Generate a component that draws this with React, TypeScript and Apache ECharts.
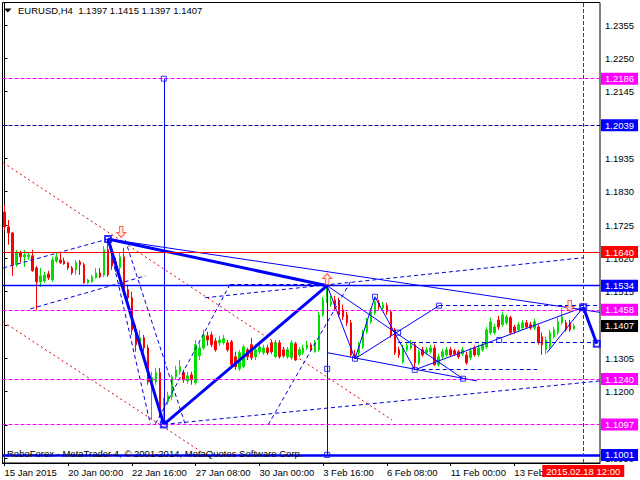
import React, { useEffect, useRef } from 'react';
import * as echarts from 'echarts';

const FONT = '"Liberation Sans", Arial, sans-serif';

const barCount = 150;
const tickIndex = [0, 16, 32, 48, 64, 80, 96, 112, 128];
const tickLabels = ['15 Jan 2015', '20 Jan 00:00', '22 Jan 16:00', '27 Jan 08:00', '30 Jan 00:00', '3 Feb 16:00', '6 Feb 08:00', '11 Feb 00:00', '13 Feb 16:00'];
const yTicks = [1.2355, 1.2250, 1.2145, 1.2040, 1.1935, 1.1830, 1.1725, 1.1620, 1.1515, 1.1410, 1.1305, 1.1200, 1.1095, 1.0990];
const yMin = 1.09755;
const yMax = 1.24259;

const titleText = 'EURUSD,H4  1.1397 1.1415 1.1397 1.1407';
const footerText = 'RoboForex - MetaTrader 4, \u00A9 2001-2014, MetaQuotes Software Corp.';
const vLineLabel = '2015.02.18 12:00';

const opens = [
  1.1766, 1.1719, 1.1700, 1.1600, 1.1637, 1.1625, 1.1625, 1.1628, 1.1590, 1.1546,
  1.1549, 1.1571, 1.1552, 1.1612, 1.1615, 1.1612, 1.1606, 1.1590, 1.1584, 1.1609,
  1.1600, 1.1543, 1.1546, 1.1559, 1.1574, 1.1568, 1.1647, 1.1622, 1.1609, 1.1590,
  1.1625, 1.1521, 1.1496, 1.1395, 1.1348, 1.1370, 1.1338, 1.1231, 1.1231, 1.1260,
  1.1111, 1.1168, 1.1184, 1.1247, 1.1263, 1.1260, 1.1234, 1.1253, 1.1228, 1.1313,
  1.1338, 1.1376, 1.1379, 1.1360, 1.1354, 1.1354, 1.1354, 1.1357, 1.1310, 1.1272,
  1.1279, 1.1332, 1.1348, 1.1310, 1.1326, 1.1323, 1.1338, 1.1354, 1.1310, 1.1354,
  1.1332, 1.1310, 1.1307, 1.1351, 1.1316, 1.1323, 1.1338, 1.1348, 1.1326, 1.1332,
  1.1442, 1.1489, 1.1474, 1.1489, 1.1483, 1.1458, 1.1442, 1.1417, 1.1316, 1.1323,
  1.1341, 1.1389, 1.1420, 1.1448, 1.1480, 1.1464, 1.1471, 1.1452, 1.1395, 1.1332,
  1.1294, 1.1332, 1.1338, 1.1348, 1.1291, 1.1332, 1.1323, 1.1326, 1.1338, 1.1285,
  1.1310, 1.1316, 1.1332, 1.1329, 1.1326, 1.1319, 1.1316, 1.1307, 1.1338, 1.1316,
  1.1332, 1.1341, 1.1386, 1.1386, 1.1426, 1.1411, 1.1417, 1.1433, 1.1404, 1.1395,
  1.1401, 1.1417, 1.1411, 1.1401, 1.1404, 1.1373, 1.1332, 1.1341, 1.1373, 1.1386,
  1.1417, 1.1417, 1.1417, 1.1397,
];
const closes = [
  1.1719, 1.1700, 1.1600, 1.1637, 1.1625, 1.1631, 1.1631, 1.1581, 1.1546, 1.1565,
  1.1568, 1.1559, 1.1615, 1.1625, 1.1606, 1.1603, 1.1590, 1.1574, 1.1606, 1.1600,
  1.1543, 1.1552, 1.1562, 1.1574, 1.1562, 1.1647, 1.1568, 1.1596, 1.1590, 1.1625,
  1.1521, 1.1496, 1.1395, 1.1348, 1.1370, 1.1338, 1.1231, 1.1244, 1.1260, 1.1127,
  1.1168, 1.1187, 1.1247, 1.1269, 1.1279, 1.1237, 1.1250, 1.1237, 1.1348, 1.1338,
  1.1379, 1.1363, 1.1348, 1.1332, 1.1363, 1.1367, 1.1332, 1.1285, 1.1279, 1.1323,
  1.1341, 1.1310, 1.1307, 1.1332, 1.1341, 1.1338, 1.1323, 1.1326, 1.1354, 1.1310,
  1.1313, 1.1332, 1.1354, 1.1300, 1.1332, 1.1338, 1.1348, 1.1335, 1.1354, 1.1442,
  1.1489, 1.1530, 1.1483, 1.1471, 1.1442, 1.1436, 1.1417, 1.1316, 1.1310, 1.1345,
  1.1389, 1.1420, 1.1452, 1.1483, 1.1467, 1.1474, 1.1452, 1.1379, 1.1323, 1.1316,
  1.1338, 1.1345, 1.1348, 1.1291, 1.1326, 1.1316, 1.1332, 1.1338, 1.1285, 1.1310,
  1.1326, 1.1332, 1.1316, 1.1319, 1.1310, 1.1332, 1.1291, 1.1329, 1.1316, 1.1338,
  1.1348, 1.1395, 1.1420, 1.1404, 1.1404, 1.1442, 1.1436, 1.1386, 1.1389, 1.1411,
  1.1417, 1.1404, 1.1401, 1.1420, 1.1354, 1.1348, 1.1363, 1.1386, 1.1395, 1.1420,
  1.1436, 1.1395, 1.1395, 1.1407,
];
const lows = [
  1.1710, 1.1663, 1.1565, 1.1593, 1.1606, 1.1593, 1.1615, 1.1578, 1.1458, 1.1530,
  1.1543, 1.1552, 1.1546, 1.1606, 1.1603, 1.1600, 1.1584, 1.1568, 1.1568, 1.1568,
  1.1540, 1.1540, 1.1543, 1.1556, 1.1559, 1.1562, 1.1562, 1.1584, 1.1578, 1.1578,
  1.1505, 1.1474, 1.1379, 1.1326, 1.1332, 1.1326, 1.1222, 1.1111, 1.1222, 1.1118,
  1.1097, 1.1159, 1.1174, 1.1237, 1.1253, 1.1228, 1.1225, 1.1222, 1.1222, 1.1300,
  1.1332, 1.1345, 1.1341, 1.1326, 1.1345, 1.1348, 1.1326, 1.1279, 1.1269, 1.1266,
  1.1275, 1.1300, 1.1300, 1.1300, 1.1319, 1.1316, 1.1316, 1.1319, 1.1307, 1.1304,
  1.1307, 1.1304, 1.1300, 1.1297, 1.1310, 1.1316, 1.1332, 1.1329, 1.1323, 1.1326,
  1.1436, 1.1480, 1.1467, 1.1458, 1.1436, 1.1426, 1.1407, 1.1310, 1.1304, 1.1313,
  1.1335, 1.1382, 1.1414, 1.1442, 1.1458, 1.1458, 1.1442, 1.1370, 1.1316, 1.1307,
  1.1288, 1.1326, 1.1332, 1.1269, 1.1285, 1.1310, 1.1316, 1.1319, 1.1282, 1.1279,
  1.1304, 1.1310, 1.1310, 1.1313, 1.1304, 1.1313, 1.1285, 1.1300, 1.1310, 1.1310,
  1.1326, 1.1335, 1.1379, 1.1379, 1.1395, 1.1404, 1.1411, 1.1379, 1.1382, 1.1389,
  1.1395, 1.1398, 1.1395, 1.1395, 1.1348, 1.1316, 1.1319, 1.1335, 1.1367, 1.1379,
  1.1411, 1.1389, 1.1389, 1.1397,
];
const highs = [
  1.1788, 1.1741, 1.1703, 1.1647, 1.1644, 1.1647, 1.1640, 1.1647, 1.1596, 1.1590,
  1.1578, 1.1581, 1.1625, 1.1640, 1.1637, 1.1622, 1.1609, 1.1596, 1.1615, 1.1615,
  1.1606, 1.1556, 1.1568, 1.1590, 1.1590, 1.1659, 1.1681, 1.1631, 1.1622, 1.1640,
  1.1653, 1.1537, 1.1515, 1.1411, 1.1395, 1.1379, 1.1348, 1.1263, 1.1275, 1.1275,
  1.1181, 1.1200, 1.1253, 1.1282, 1.1300, 1.1269, 1.1263, 1.1263, 1.1363, 1.1354,
  1.1395, 1.1389, 1.1389, 1.1370, 1.1376, 1.1379, 1.1363, 1.1363, 1.1326, 1.1332,
  1.1348, 1.1338, 1.1370, 1.1341, 1.1354, 1.1348, 1.1348, 1.1363, 1.1363, 1.1363,
  1.1341, 1.1341, 1.1363, 1.1357, 1.1341, 1.1348, 1.1360, 1.1354, 1.1363, 1.1452,
  1.1499, 1.1534, 1.1502, 1.1502, 1.1496, 1.1474, 1.1452, 1.1426, 1.1332, 1.1357,
  1.1395, 1.1433, 1.1464, 1.1499, 1.1489, 1.1483, 1.1480, 1.1458, 1.1401, 1.1341,
  1.1348, 1.1354, 1.1363, 1.1357, 1.1332, 1.1341, 1.1341, 1.1348, 1.1348, 1.1319,
  1.1335, 1.1341, 1.1341, 1.1335, 1.1332, 1.1341, 1.1326, 1.1338, 1.1345, 1.1348,
  1.1357, 1.1404, 1.1433, 1.1414, 1.1439, 1.1452, 1.1442, 1.1439, 1.1411, 1.1420,
  1.1426, 1.1426, 1.1420, 1.1430, 1.1411, 1.1386, 1.1373, 1.1395, 1.1404, 1.1433,
  1.1464, 1.1426, 1.1426, 1.1415,
];

// horizontal price levels
const magentaLevels = [1.2186, 1.1458, 1.1240, 1.1097];
const navyLevel = 1.2039;
const redLevel = 1.1640;
const blueLevel = 1.1534;
const blueThickLevel = 1.1001;
const bidLevel = 1.1407;
const vLineX = 145.3;

// overlay segments: [x1, price1, x2, price2] in bar index units
const thickLines = [
  [26, 1.1681, 40, 1.1097],
  [40, 1.1097, 81, 1.1534],
  [26, 1.1681, 81, 1.1534],
  [145.3, 1.1466, 148.7, 1.1351],
];
const thinLines = [
  [40, 1.2186, 40, 1.1097],
  [81, 1.1534, 81, 1.1001],
  [81, 1.1534, 88, 1.1304],
  [88, 1.1304, 93, 1.1499],
  [93, 1.1499, 103, 1.1269],
  [103, 1.1269, 145.3, 1.1466],
  [88, 1.1304, 109.1, 1.1471],
  [81, 1.1323, 118.6, 1.1234],
  [81, 1.1534, 115.1, 1.1241],
  [136.2, 1.1323, 145.3, 1.1466],
  [26, 1.1681, 149.5, 1.1450],
];
const dashLines = [
  [109.1, 1.1471, 149.5, 1.1471],
  [98.8, 1.1357, 149.5, 1.1357],
  [103, 1.1272, 133.7, 1.1272],
  [56.7, 1.1540, 81, 1.1540],
  [40, 1.1097, 149.5, 1.1234],
  [50.4, 1.1496, 145.3, 1.1622],
  [37.9, 1.1099, 56.7, 1.1540],
  [66.2, 1.1096, 87, 1.1549],
  [-0.3, 1.1590, 26, 1.1681],
  [6.5, 1.1461, 35.4, 1.1565],
  [26, 1.1681, 36.6, 1.1099],
  [30.3, 1.1678, 45.4, 1.1096],
];
const redDotLines = [
  [-0.3, 1.1921, 97.3, 1.1111],
  [-0.3, 1.1420, 51.7, 1.0992],
];
const thinSquares = [
  [40, 1.2186], [81, 1.1272], [81, 1.1001], [88, 1.1304], [93, 1.1499],
  [98.8, 1.1386], [103, 1.1269], [109.1, 1.1471], [115.1, 1.1241], [124.2, 1.1363],
];
const thickSquares = [[26, 1.1681], [40, 1.1097], [145.3, 1.1466], [148.7, 1.1351]];
const downArrows = [[29.3, 1.1703], [141.9, 1.1470]];
const upArrows = [[81, 1.1555]];

const fmt4 = (p: any) => Number(p.value).toFixed(4);

function levelLabel(bg: string) {
  return {
    show: true,
    position: 'end',
    formatter: fmt4,
    backgroundColor: bg,
    color: '#ffffff',
    padding: [1, 4, 1, 4],
    fontSize: 9.5,
    lineHeight: 10,
    fontFamily: FONT,
    distance: 1,
  };
}

function segs(list: number[][]) {
  return list.map((s) => ({ coords: [[s[0], s[1]], [s[2], s[3]]] }));
}

export default function App() {
  const ref = useRef<HTMLDivElement>(null);
  useEffect(() => {
    document.body.style.margin = '0';
    if (!ref.current) return;
    const chart = echarts.init(ref.current, undefined, { renderer: 'svg' });
    const categories = Array.from({ length: barCount }, (_, i) => String(i));
    const candles = opens.map((o, i) => [o, closes[i], lows[i], highs[i]]);
    const showTick = (i: number) => tickIndex.includes(i);

    const hLines: any[] = [
      ...magentaLevels.map((v) => ({
        yAxis: v,
        lineStyle: { color: '#ff00ff', type: [4, 2], width: 1 },
        label: levelLabel('#ff00ff'),
      })),
      { yAxis: navyLevel, lineStyle: { color: '#00009a', type: [4, 2], width: 1 }, label: levelLabel('#0000ff') },
      { yAxis: redLevel, lineStyle: { color: '#ff0000', type: 'solid', width: 1 }, label: levelLabel('#ff0000') },
      { yAxis: blueLevel, lineStyle: { color: '#0000ff', type: 'solid', width: 1.4 }, label: levelLabel('#0000ff') },
      { yAxis: blueThickLevel, lineStyle: { color: '#0000ff', type: 'solid', width: 2.6 }, label: levelLabel('#0000ff') },
      { yAxis: bidLevel, lineStyle: { color: 'rgba(0,0,0,0)', width: 0 }, label: levelLabel('#000000') },
    ];

    const lineSeries = (data: number[][], style: any, z: number) => ({
      type: 'lines',
      coordinateSystem: 'cartesian2d',
      xAxisIndex: 1,
      yAxisIndex: 0,
      polyline: false,
      silent: true,
      clip: true,
      z,
      lineStyle: { opacity: 1, curveness: 0, ...style },
      effect: { show: false },
      data: segs(data),
    });

    chart.setOption({
      animation: false,
      backgroundColor: '#ffffff',
      textStyle: { fontFamily: FONT },
      grid: { left: 2.5, right: 40, top: 2.5, bottom: 17, show: true, borderColor: '#000', borderWidth: 1, containLabel: false },
      xAxis: [
        {
          type: 'category',
          data: categories,
          boundaryGap: true,
          axisLine: { show: true, lineStyle: { color: '#000' } },
          axisTick: { show: true, alignWithLabel: true, interval: showTick, length: 3, lineStyle: { color: '#000' } },
          axisLabel: {
            interval: showTick,
            formatter: (_v: any, i: number) => {
              const k = tickIndex.indexOf(i);
              return k >= 0 ? tickLabels[k] : '';
            },
            align: 'left',
            margin: 4,
            color: '#000',
            fontSize: 9.5,
            fontFamily: FONT,
          },
          splitLine: { show: false },
        },
        { type: 'value', min: -0.5, max: barCount - 0.5, show: false, splitLine: { show: false } },
      ],
      yAxis: {
        type: 'value',
        position: 'right',
        min: yMin,
        max: yMax,
        splitLine: { show: false },
        axisLine: { show: true, lineStyle: { color: '#000' } },
        axisTick: { show: true, customValues: yTicks, length: 3, lineStyle: { color: '#000' } },
        axisLabel: {
          customValues: yTicks,
          formatter: (v: number) => v.toFixed(4),
          margin: 5,
          color: '#000',
          fontSize: 9.5,
          fontFamily: FONT,
        },
      },
      series: [
        {
          type: 'candlestick',
          xAxisIndex: 0,
          yAxisIndex: 0,
          data: candles,
          barWidth: 2,
          silent: true,
          z: 2,
          itemStyle: { color: '#00e000', color0: '#ff0000', borderColor: '#00e000', borderColor0: '#ff0000', borderWidth: 1 },
          markLine: { symbol: ['none', 'none'], precision: 4, silent: true, animation: false, data: hLines },
        },
        lineSeries(redDotLines, { color: '#e00000', width: 1, type: [2, 3] }, 3),
        lineSeries(dashLines, { color: '#0000e0', width: 1, type: [4, 3] }, 3),
        lineSeries(thinLines, { color: '#0000ff', width: 1, type: 'solid' }, 3),
        lineSeries(thickLines, { color: '#0000ff', width: 3, type: 'solid' }, 4),
        {
          type: 'scatter',
          xAxisIndex: 1,
          yAxisIndex: 0,
          data: thinSquares,
          symbol: 'rect',
          symbolSize: 5,
          silent: true,
          z: 5,
          itemStyle: { color: 'rgba(255,255,255,0)', borderColor: '#0000ff', borderWidth: 1 },
          markLine: {
            symbol: ['none', 'none'],
            precision: 4,
            silent: true,
            animation: false,
            data: [
              {
                xAxis: vLineX,
                lineStyle: { color: '#dd0000', type: [4, 2], width: 1 },
                label: {
                  show: true,
                  position: 'start',
                  formatter: () => vLineLabel,
                  backgroundColor: '#ff0000',
                  color: '#ffffff',
                  padding: [1, 4, 1, 4],
                  fontSize: 9.5,
                  lineHeight: 10,
                  fontFamily: FONT,
                  distance: 2,
                },
              },
            ],
          },
        },
        {
          type: 'scatter',
          xAxisIndex: 1,
          yAxisIndex: 0,
          data: thickSquares,
          symbol: 'rect',
          symbolSize: 6,
          silent: true,
          z: 5,
          itemStyle: { color: 'rgba(255,255,255,0)', borderColor: '#0000ff', borderWidth: 2 },
        },
        {
          type: 'scatter',
          xAxisIndex: 1,
          yAxisIndex: 0,
          data: downArrows,
          symbol: 'path://M3,0L7,0L7,6L10,6L5,11L0,6L3,6Z',
          symbolSize: [9, 11],
          silent: true,
          z: 6,
          itemStyle: { color: '#ffe2da', borderColor: '#ff3a20', borderWidth: 1 },
        },
        {
          type: 'scatter',
          xAxisIndex: 1,
          yAxisIndex: 0,
          data: upArrows,
          symbol: 'path://M5,0L10,5L7,5L7,11L3,11L3,5L0,5Z',
          symbolSize: [9, 11],
          silent: true,
          z: 6,
          itemStyle: { color: '#ffe2da', borderColor: '#ff3a20', borderWidth: 1 },
        },
      ],
      graphic: [
        { type: 'polygon', z: 100, shape: { points: [[4, 8.5], [11.5, 8.5], [7.75, 12.5]] }, style: { fill: '#000' } },
        { type: 'text', z: 100, x: 18, y: 10.5, style: { text: titleText, fontSize: 9.5, fontFamily: FONT, fill: '#000', verticalAlign: 'middle' } },
        { type: 'text', z: 100, x: 7, y: 453, style: { text: footerText, fontSize: 9.5, fontFamily: FONT, fill: '#000', verticalAlign: 'middle' } },
      ],
    });
    return () => chart.dispose();
  }, []);
  return <div ref={ref} style={{ width: 640, height: 480 }} />;
}
